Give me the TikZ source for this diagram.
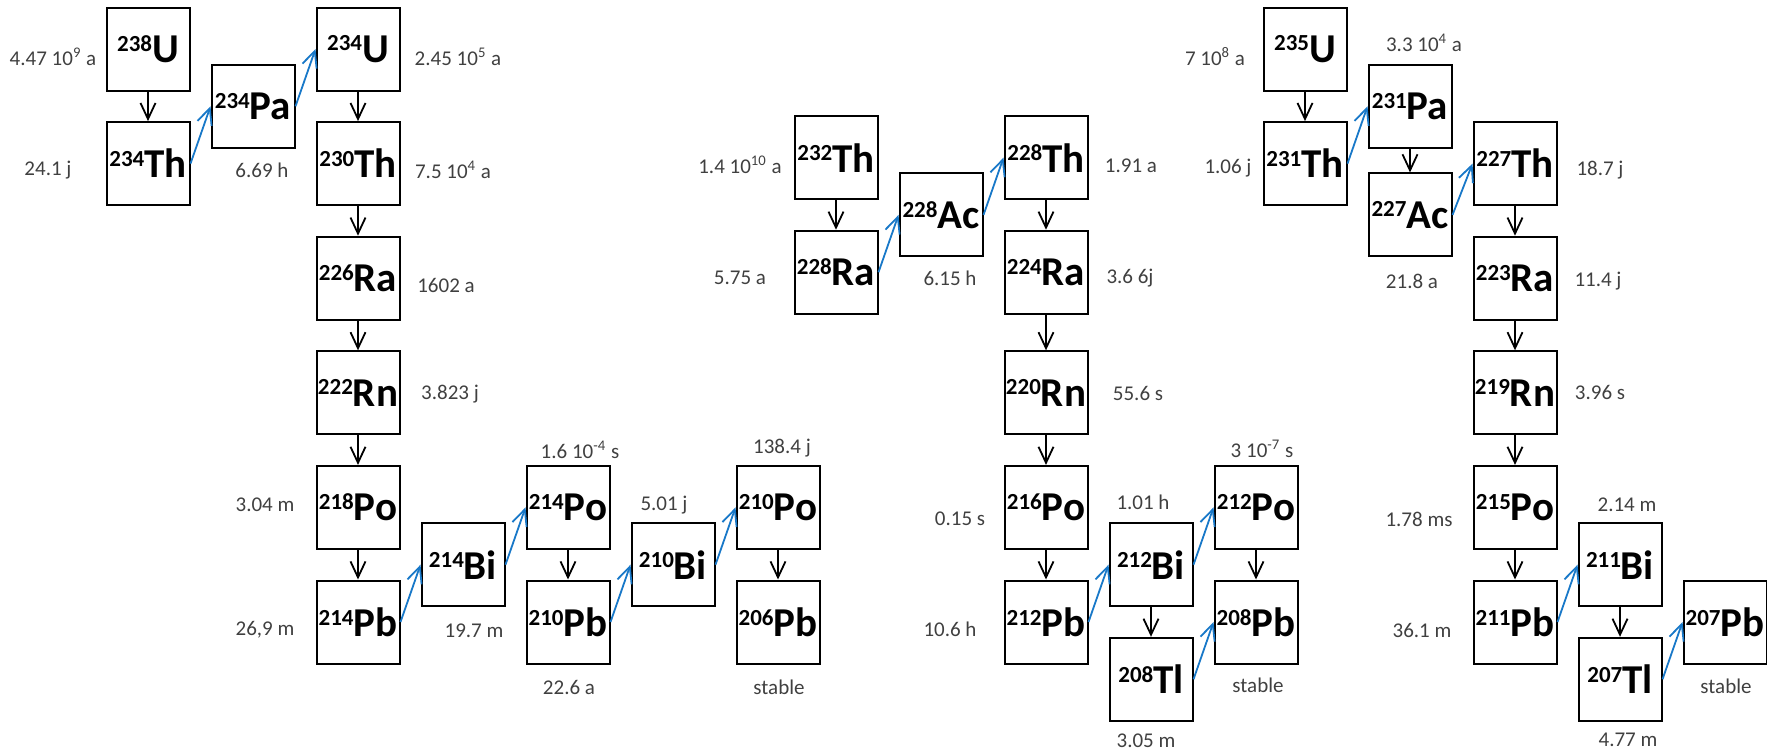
\documentclass[tikz,border=0pt]{standalone}
\usepackage{fontspec}
\setmainfont{Carlito}
\usetikzlibrary{arrows.meta}

\definecolor{betablue}{HTML}{1878C8}
\definecolor{halfgray}{HTML}{404040}

% mass number raised to the top of the symbol
\newcommand{\nucl}[2]{%
  \raisebox{5.6pt}{\fontsize{11.5}{13}\selectfont\bfseries #1}%
  {\fontsize{20.5}{24}\selectfont\bfseries #2}}

\tikzset{
    nucbox/.style={draw, line width=1pt, minimum size=41.5pt, inner sep=0pt},
    alphastep/.style={-{Straight Barb[length=8pt, width=7.5pt]}, line width=0.9pt},
    betastep/.style={alphastep, draw=betablue},
    halflife/.style={text=halfgray, inner sep=0pt, font=\fontsize{10.5}{12}\selectfont}
}

\begin{document}
\begin{tikzpicture}[x=0.5pt, y=-0.5pt]
    \useasboundingbox (0,0) rectangle (1767,751);
    \def\dx{105}
    \def\dy{114.6}

    % 238U series
    \foreach \nm/\c/\r/\A/\el in {u238/0/0/238/U, th234/0/1/234/Th, pa234/1/0.5/234/Pa,
        u234/2/0/234/U, th230/2/1/230/Th, ra226/2/2/226/Ra, rn222/2/3/222/Rn,
        po218/2/4/218/Po, pb214/2/5/214/Pb, bi214/3/4.5/214/Bi, po214/4/4/214/Po,
        pb210/4/5/210/Pb, bi210/5/4.5/210/Bi, po210/6/4/210/Po, pb206/6/5/206/Pb} {
        \node[nucbox] (\nm) at ({148+\dx*\c}, {49+\dy*\r}) {\nucl{\A}{\el}};
    }

    % 232Th series
    \foreach \nm/\c/\r/\A/\el in {th232/0/0.948/232/Th, ra228/0/1.948/228/Ra, ac228/1/1.448/228/Ac,
        th228/2/0.948/228/Th, ra224/2/1.948/224/Ra, rn220/2/3/220/Rn, po216/2/4/216/Po,
        pb212/2/5/212/Pb, bi212/3/4.5/212/Bi, tl208/3/5.5/208/Tl, po212/4/4/212/Po,
        pb208/4/5/208/Pb} {
        \node[nucbox] (\nm) at ({836+\dx*\c}, {49+\dy*\r}) {\nucl{\A}{\el}};
    }

    % 235U series
    \foreach \nm/\c/\r/\A/\el in {u235/0/0/235/U, th231/0/1/231/Th, pa231/1/0.5/231/Pa,
        ac227/1/1.448/227/Ac, th227/2/1/227/Th, ra223/2/2/223/Ra, rn219/2/3/219/Rn,
        po215/2/4/215/Po, pb211/2/5/211/Pb, bi211/3/4.5/211/Bi, tl207/3/5.5/207/Tl,
        pb207/4/5/207/Pb} {
        \node[nucbox] (\nm) at ({1305+\dx*\c}, {49+\dy*\r}) {\nucl{\A}{\el}};
    }

    % alpha decays (down)
    \foreach \a/\b in {u238/th234, u234/th230, th230/ra226, ra226/rn222, rn222/po218,
        po218/pb214, po214/pb210, po210/pb206,
        th232/ra228, th228/ra224, ra224/rn220, rn220/po216, po216/pb212, bi212/tl208,
        po212/pb208,
        u235/th231, pa231/ac227, th227/ra223, ra223/rn219, rn219/po215, po215/pb211,
        bi211/tl207} {
        \draw[alphastep] (\a.south) -- (\b.north);
    }

    % beta decays (up to the right)
    \foreach \a/\b in {th234/pa234, pa234/u234, pb214/bi214, bi214/po214, pb210/bi210,
        bi210/po210,
        ra228/ac228, ac228/th228, pb212/bi212, bi212/po212, tl208/pb208,
        th231/pa231, ac227/th227, pb211/bi211, tl207/pb207} {
        \draw[betastep] (\a.east) -- (\b.west);
    }

    % half-lives
    \foreach \nm/\sx/\sy/\txt in {
        u238/-95/8/{4.47 10\textsuperscript{9} a}, th234/-100/6/{24.1 j},
        pa234/9/64/{6.69 h}, u234/100/8/{2.45 10\textsuperscript{5} a},
        th230/95/6/{7.5 10\textsuperscript{4} a}, ra226/88/7/{1602 a},
        rn222/92/1/{3.823 j}, po218/-93/-3/{3.04 m}, pb214/-93/8/{26,9 m},
        bi214/11/66/{19.7 m}, po214/12/-58/{1.6 10\textsuperscript{-4} s},
        pb210/1/65/{22.6 a}, bi210/-9/-60/{5.01 j}, po210/4/-59/{138.4 j},
        pb206/1/65/{stable},
        th232/-96/7/{1.4 10\textsuperscript{10} a}, ra228/-96/6/{5.75 a},
        ac228/9/63/{6.15 h}, th228/85/8/{1.91 a}, ra224/84/6/{3.6 6j},
        rn220/92/1/{55.6 s}, po216/-86/11/{0.15 s}, pb212/-96/7/{10.6 h},
        bi212/-8/-62/{1.01 h}, tl208/-5/61/{3.05 m},
        po212/6/-59/{3 10\textsuperscript{-7} s}, pb208/2/63/{stable},
        u235/-90/8/{7 10\textsuperscript{8} a}, th231/-77/4/{1.06 j},
        pa231/14/-63/{3.3 10\textsuperscript{4} a}, ac227/2/66/{21.8 a},
        th227/85/6/{18.7 j}, ra223/83/3/{11.4 j}, rn219/85/0/{3.96 s},
        po215/-96/12/{1.78 ms}, pb211/-93/8/{36.1 m}, bi211/7/-60/{2.14 m},
        tl207/8/61/{4.77 m}, pb207/1/64/{stable}} {
        \node[halflife, shift={(\sx,\sy)}] (t-\nm) at (\nm) {\txt};
    }
\end{tikzpicture}
\end{document}
